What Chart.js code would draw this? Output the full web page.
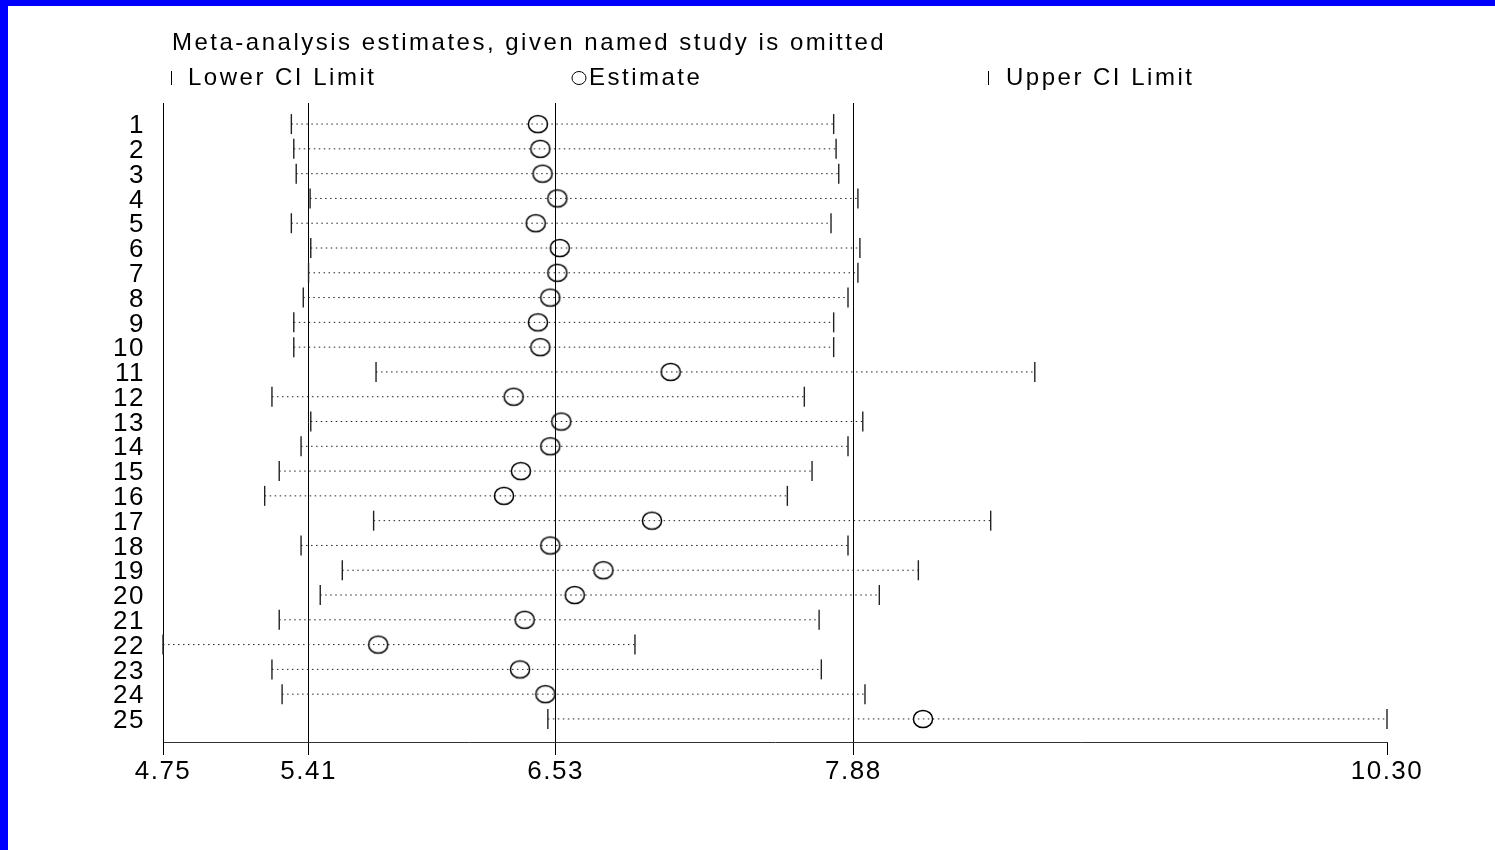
<!DOCTYPE html>
<html>
<head>
<meta charset="utf-8">
<script src="https://cdn.jsdelivr.net/npm/chart.js@4/dist/chart.umd.min.js"></script>
<style>
  html, body { margin: 0; padding: 0; background: #0000ff; overflow: hidden; }
  #quadro { position: absolute; left: 8px; top: 6px; width: 1487px; height: 844px; background: #fff; }
</style>
</head>
<body>
<div id="quadro"><canvas id="GraficoInfluencia" width="1487" height="844"></canvas></div>
<script>
// estudos omitidos, um por linha
const estudos = ['1', '2', '3', '4', '5', '6', '7', '8', '9', '10', '11', '12', '13',
  '14', '15', '16', '17', '18', '19', '20', '21', '22', '23', '24', '25'];

const limiteInferior = [5.332, 5.343, 5.354, 5.417, 5.332, 5.420, 5.410, 5.386, 5.343, 5.343,
  5.716, 5.244, 5.420, 5.376, 5.277, 5.211, 5.705, 5.376, 5.563, 5.463,
  5.277, 4.750, 5.244, 5.290, 6.495];

const estimativa = [6.450, 6.461, 6.471, 6.538, 6.440, 6.549, 6.538, 6.506, 6.450, 6.461,
  7.052, 6.340, 6.556, 6.506, 6.373, 6.296, 6.967, 6.506, 6.747, 6.617,
  6.390, 5.726, 6.369, 6.484, 8.196];

const limiteSuperior = [7.791, 7.802, 7.814, 7.901, 7.779, 7.910, 7.901, 7.856, 7.791, 7.791,
  8.703, 7.658, 7.923, 7.856, 7.693, 7.581, 8.503, 7.856, 8.175, 7.998,
  7.725, 6.890, 7.735, 7.933, 10.300];

const ticksX = [4.75, 5.41, 6.53, 7.88, 10.30];
const linhasReferencia = [5.41, 6.53, 7.88];

const fonte = 'Liberation Sans, Arial, sans-serif';

// linhas pontilhadas: um par de pontos por estudo, separados por null
const intervalos = [];
estudos.forEach(function (e, i) {
    intervalos.push({ x: limiteInferior[i], y: i + 1 });
    intervalos.push({ x: limiteSuperior[i], y: i + 1 });
    intervalos.push({ x: null, y: null });
});

function pontos(valores) {
    return valores.map(function (v, i) { return { x: v, y: i + 1 }; });
}

// marcador da estimativa: elipse vazada
const elipse = document.createElement('canvas');
elipse.width = 24;
elipse.height = 22;
(function () {
    const c = elipse.getContext('2d');
    c.strokeStyle = '#000';
    c.lineWidth = 1.5;
    c.beginPath();
    c.ellipse(12, 11, 9.6, 8.6, 0, 0, Math.PI * 2);
    c.stroke();
})();

// espaçamento das letras (o canvas perde o estado a cada redimensionamento)
const espacarLetras = {
    id: 'espacarLetras',
    beforeLayout: function (chart) { chart.ctx.letterSpacing = '1.5px'; },
    beforeDraw: function (chart) { chart.ctx.letterSpacing = '1.5px'; }
};

// título e legenda desenhados acima da área do gráfico
const cabecalho = {
    id: 'cabecalho',
    afterDraw: function (chart) {
        const ctx = chart.ctx;
        const esq = chart.chartArea.left;
        ctx.save();
        ctx.letterSpacing = '2.5px';
        ctx.fillStyle = '#000';
        ctx.strokeStyle = '#000';
        ctx.lineWidth = 1;
        ctx.font = '24px ' + fonte;
        ctx.textBaseline = 'middle';
        ctx.textAlign = 'left';
        ctx.fillText('Meta-analysis estimates, given named study is omitted', esq + 9, 37);

        const yLeg = 72;
        ctx.beginPath();
        ctx.moveTo(esq + 8.5, yLeg - 7);
        ctx.lineTo(esq + 8.5, yLeg + 7);
        ctx.stroke();
        ctx.fillText('Lower CI Limit', esq + 25, yLeg);

        ctx.beginPath();
        ctx.ellipse(esq + 416, yLeg, 7, 6.5, 0, 0, Math.PI * 2);
        ctx.stroke();
        ctx.fillText('Estimate', esq + 426, yLeg);

        ctx.beginPath();
        ctx.moveTo(esq + 825.5, yLeg - 7);
        ctx.lineTo(esq + 825.5, yLeg + 7);
        ctx.stroke();
        ctx.fillText('Upper CI Limit', esq + 843, yLeg);
        ctx.restore();
    }
};

Chart.defaults.font.family = fonte;
Chart.defaults.color = '#000';

new Chart(document.getElementById('GraficoInfluencia'), {
    type: 'scatter',
    data: {
        datasets: [{
            label: 'IC',
            data: intervalos,
            showLine: true,
            spanGaps: false,
            borderColor: '#222',
            borderWidth: 1,
            borderDash: [1.5, 3.5],
            pointRadius: 0,
            clip: false
        }, {
            label: 'Lower CI Limit',
            data: pontos(limiteInferior),
            pointStyle: 'line',
            rotation: 90,
            pointRadius: 10,
            borderColor: '#222',
            borderWidth: 1.4,
            clip: false
        }, {
            label: 'Upper CI Limit',
            data: pontos(limiteSuperior),
            pointStyle: 'line',
            rotation: 90,
            pointRadius: 10,
            borderColor: '#222',
            borderWidth: 1.4,
            clip: false
        }, {
            label: 'Estimate',
            data: pontos(estimativa),
            pointStyle: elipse,
            pointRadius: 10,
            clip: false
        }]
    },
    options: {
        responsive: false,
        animation: false,
        events: [],
        layout: { padding: { left: 0, top: 97, right: 108, bottom: 48 } },
        plugins: {
            legend: { display: false },
            tooltip: { enabled: false },
            title: { display: false }
        },
        scales: {
            x: {
                type: 'linear',
                min: 4.75,
                max: 10.30,
                afterBuildTicks: function (escala) {
                    escala.ticks = ticksX.map(function (v) { return { value: v }; });
                },
                afterFit: function (escala) { escala.height = 60; },
                ticks: {
                    autoSkip: false,
                    maxRotation: 0,
                    padding: 4,
                    font: { size: 26, lineHeight: 1 },
                    callback: function (v) { return Number(v).toFixed(2); }
                },
                grid: {
                    drawOnChartArea: true,
                    drawTicks: true,
                    tickLength: 13,
                    lineWidth: 1,
                    tickColor: '#000',
                    color: function (c) {
                        return c.tick && linhasReferencia.includes(c.tick.value) ? '#000' : 'rgba(0,0,0,0)';
                    }
                },
                border: { display: true, color: '#333', width: 1 }
            },
            y: {
                type: 'linear',
                reverse: true,
                min: 0.15,
                max: 25.93,
                afterBuildTicks: function (escala) {
                    escala.ticks = estudos.map(function (e, i) { return { value: i + 1 }; });
                },
                afterFit: function (escala) { escala.width = 155; },
                ticks: {
                    autoSkip: false,
                    padding: 18,
                    labelOffset: 2,
                    font: { size: 26, lineHeight: 1 },
                    callback: function (v) { return estudos[v - 1]; }
                },
                grid: { display: false, drawTicks: false },
                border: { display: true, color: '#000', width: 1 }
            }
        }
    },
    plugins: [espacarLetras, cabecalho]
});
</script>
</body>
</html>
